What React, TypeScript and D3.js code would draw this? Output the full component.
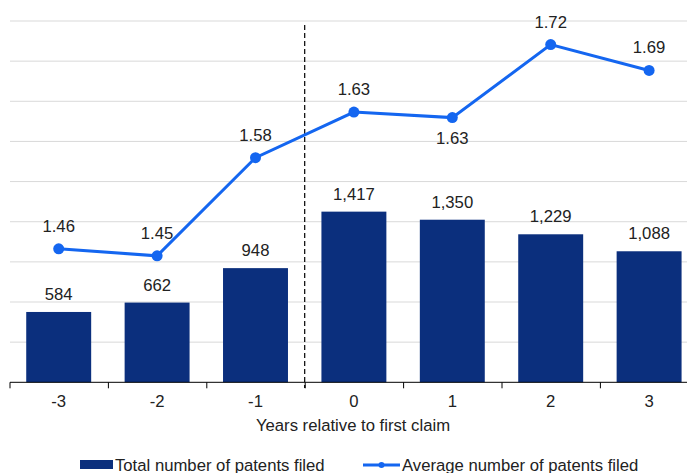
import React from "react";
import * as d3 from "d3";

const categories = ["-3", "-2", "-1", "0", "1", "2", "3"];
const totalPatents = [584, 662, 948, 1417, 1350, 1229, 1088];
const avgPatents = [1.46, 1.451, 1.576, 1.634, 1.627, 1.72, 1.687];
const avgLabelBelow = [false, false, false, false, true, false, false];
const xTitle = "Years relative to first claim";
const legendLabels = ["Total number of patents filed", "Average number of patents filed"];

const W = 687;
const H = 473;
const BAR = "#0b2f7d";
const LINE = "#1466f0";
const FONT = "'Liberation Sans', Arial, sans-serif";
const FS = 16.7;

export default function App() {
  const top = 21;
  const bottom = 382.3;
  const x = d3.scaleBand<string>().domain(categories).range([9.5, 698.3]).paddingInner(0.34).paddingOuter(0.17);
  const step = x.step();
  const yBar = d3.scaleLinear().domain([0, 3000]).range([bottom, top]);
  const yLine = d3.scaleLinear().domain([1.29, 1.75]).range([bottom, top]);
  const gridVals = d3.range(1, 10).map((i) => (3000 / 9) * i);
  const cx = (c: string) => (x(c) as number) + x.bandwidth() / 2;
  const lineGen = d3
    .line<number>()
    .x((_, i) => cx(categories[i]))
    .y((d) => yLine(d));
  const boundaries = d3.range(0, categories.length + 1).map((i) => 9.5 + i * step);
  const fmtInt = d3.format(",");
  const fmt2 = d3.format(".2f");
  const dashX = 9.5 + 3 * step;

  return (
    <svg width={W} height={H} style={{ position: "absolute", left: 0, top: 0, fontFamily: FONT }}>
      <rect width={W} height={H} fill="#fff" />
      {gridVals.map((v, i) => (
        <line key={i} x1={10} x2={W} y1={yBar(v)} y2={yBar(v)} stroke="#d9d9d9" strokeWidth={1} />
      ))}
      {categories.map((c, i) => (
        <rect
          key={c}
          x={x(c)}
          y={yBar(totalPatents[i])}
          width={x.bandwidth()}
          height={bottom - yBar(totalPatents[i])}
          fill={BAR}
        />
      ))}
      {categories.map((c, i) => (
        <text
          key={"bl" + c}
          x={cx(c)}
          y={yBar(totalPatents[i]) - 17.5}
          textAnchor="middle"
          dominantBaseline="central"
          fontSize={FS}
          fill="#222"
        >
          {fmtInt(totalPatents[i])}
        </text>
      ))}
      <line x1={dashX} x2={dashX} y1={25} y2={388} stroke="#000" strokeWidth={1.2} strokeDasharray="5,3" />
      <line x1={10} x2={W} y1={bottom} y2={bottom} stroke="#000" strokeWidth={1} />
      {boundaries.map((b, i) => (
        <line key={"t" + i} x1={b + 0.5} x2={b + 0.5} y1={bottom} y2={bottom + 6} stroke="#000" strokeWidth={1} />
      ))}
      <path d={lineGen(avgPatents) || ""} fill="none" stroke={LINE} strokeWidth={3} />
      {categories.map((c, i) => (
        <circle key={"p" + c} cx={cx(c)} cy={yLine(avgPatents[i])} r={5.5} fill={LINE} />
      ))}
      {categories.map((c, i) => (
        <text
          key={"ll" + c}
          x={cx(c)}
          y={yLine(avgPatents[i]) + (avgLabelBelow[i] ? 21 : -22.5)}
          textAnchor="middle"
          dominantBaseline="central"
          fontSize={FS}
          fill="#222"
        >
          {fmt2(avgPatents[i])}
        </text>
      ))}
      {categories.map((c) => (
        <text key={"xl" + c} x={cx(c)} y={401.5} textAnchor="middle" dominantBaseline="central" fontSize={FS} fill="#222">
          {c}
        </text>
      ))}
      <text x={353} y={425} textAnchor="middle" dominantBaseline="central" fontSize={FS} fill="#222">
        {xTitle}
      </text>
      <rect x={80} y={460} width={33} height={9} fill={BAR} />
      <text x={115} y={465} dominantBaseline="central" fontSize={FS} fill="#222">
        {legendLabels[0]}
      </text>
      <line x1={363} x2={400} y1={465} y2={465} stroke={LINE} strokeWidth={3} />
      <circle cx={381.5} cy={465} r={3} fill={LINE} />
      <text x={402} y={465} dominantBaseline="central" fontSize={FS} fill="#222">
        {legendLabels[1]}
      </text>
    </svg>
  );
}
